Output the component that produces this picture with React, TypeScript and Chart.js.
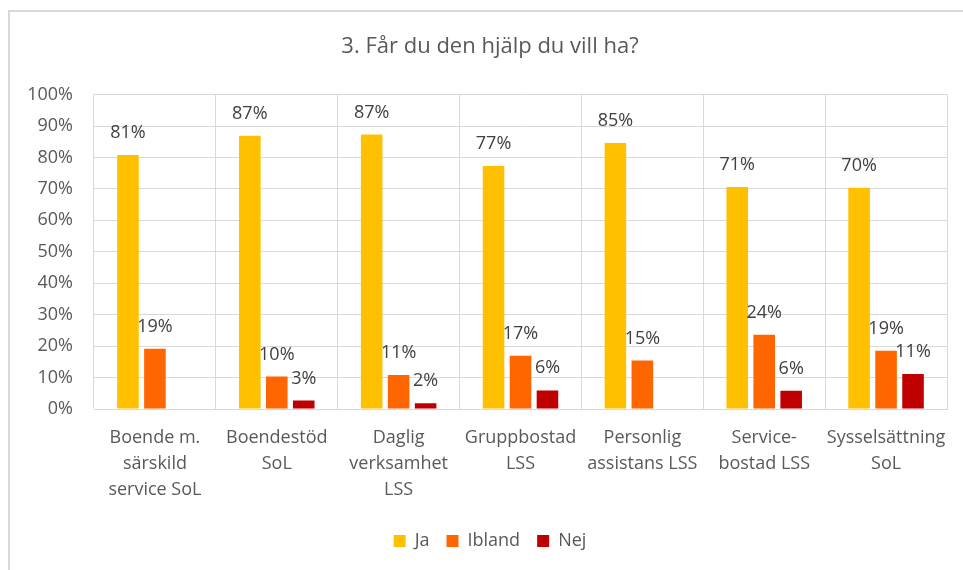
import React, { useEffect, useRef } from "react";
import { Chart, registerables } from "chart.js";

Chart.register(...registerables);

const TITLE = "3. Får du den hjälp du vill ha?";
const categories: string[][] = [
  ["Boende m.", "särskild", "service SoL"],
  ["Boendestöd", "SoL"],
  ["Daglig", "verksamhet", "LSS"],
  ["Gruppbostad", "LSS"],
  ["Personlig", "assistans LSS"],
  ["Service-", "bostad LSS"],
  ["Sysselsättning", "SoL"],
];
const seriesNames = ["Ja", "Ibland", "Nej"];
const ja: (number | null)[] = [80.8, 86.9, 87.3, 77.3, 84.6, 70.6, 70.4];
const ibland: (number | null)[] = [19.2, 10.3, 10.8, 16.9, 15.4, 23.6, 18.5];
const nej: (number | null)[] = [null, 2.7, 1.8, 5.9, null, 5.8, 11.1];
const colors = ["#FFC000", "#FF6600", "#C00000"];

const FONT = '"Open Sans", "Noto Sans", sans-serif';

const valueLabels = {
  id: "valueLabels",
  afterDatasetsDraw(chart: any) {
    const ctx = chart.ctx;
    ctx.save();
    ctx.font = `18px ${FONT}`;
    ctx.fillStyle = "#404040";
    ctx.textAlign = "center";
    ctx.textBaseline = "alphabetic";
    chart.data.datasets.forEach((ds: any, i: number) => {
      const meta = chart.getDatasetMeta(i);
      meta.data.forEach((bar: any, j: number) => {
        const v = ds.data[j];
        if (v == null) return;
        ctx.fillText(Math.round(v) + "%", bar.x, bar.y - 17);
      });
    });
    ctx.restore();
  },
};

export default function App() {
  const ref = useRef<HTMLCanvasElement | null>(null);
  useEffect(() => {
    if (!ref.current) return;
    const data = [ja, ibland, nej];
    const chart = new Chart(ref.current, {
      type: "bar",
      data: {
        labels: categories,
        datasets: seriesNames.map((n, i) => ({
          label: n,
          data: data[i],
          backgroundColor: colors[i],
          borderWidth: 0,
          categoryPercentage: 0.664,
          barPercentage: 0.8,
        })),
      },
      options: {
        responsive: false,
        animation: false,
        layout: { padding: { left: 0, right: 0, top: 0, bottom: 10 } },
        plugins: {
          tooltip: { enabled: false },
          title: {
            display: true,
            text: TITLE,
            color: "#595959",
            font: { family: FONT, size: 22, weight: "normal" },
            padding: { top: 34, bottom: 34.2 },
          },
          legend: {
            position: "bottom",
            labels: {
              boxWidth: 12,
              boxHeight: 12,
              padding: 17,
              color: "#595959",
              font: { family: FONT, size: 18 },
            },
          },
        },
        scales: {
          x: {
            grid: { color: "#D9D9D9", drawTicks: false, offset: true },
            border: { color: "#D9D9D9" },
            ticks: {
              color: "#595959",
              font: { family: FONT, size: 18, lineHeight: 1.444 },
              padding: 16,
              maxRotation: 0,
              autoSkip: false,
            },
            afterFit(scale: any) {
              scale.height = 106;
            },
          },
          y: {
            min: 0,
            max: 100,
            grid: { color: "#D9D9D9", drawTicks: false },
            border: { display: false },
            ticks: {
              stepSize: 10,
              color: "#595959",
              font: { family: FONT, size: 18 },
              padding: 21,
              callback: (v: any) => v + "%",
            },
            afterFit(scale: any) {
              scale.width = 94;
            },
          },
          yRight: {
            position: "right",
            min: 0,
            max: 100,
            grid: { display: false, drawTicks: false },
            border: { display: false },
            ticks: { display: false },
            afterFit(scale: any) {
              scale.width = 33;
            },
          },
        },
      },
      plugins: [valueLabels],
    } as any);
    return () => chart.destroy();
  }, []);

  return (
    <div
      style={{
        position: "absolute",
        left: 0,
        top: 0,
        width: 963,
        height: 570,
        overflow: "hidden",
        background: "#fff",
      }}
    >
      <div
        style={{
          position: "absolute",
          left: 8,
          top: 10,
          width: 1000,
          height: 600,
          border: "2px solid #D9D9D9",
        }}
      />
      <canvas
        ref={ref}
        width={980}
        height={570}
        style={{ position: "absolute", left: 0, top: 0 }}
      />
    </div>
  );
}
